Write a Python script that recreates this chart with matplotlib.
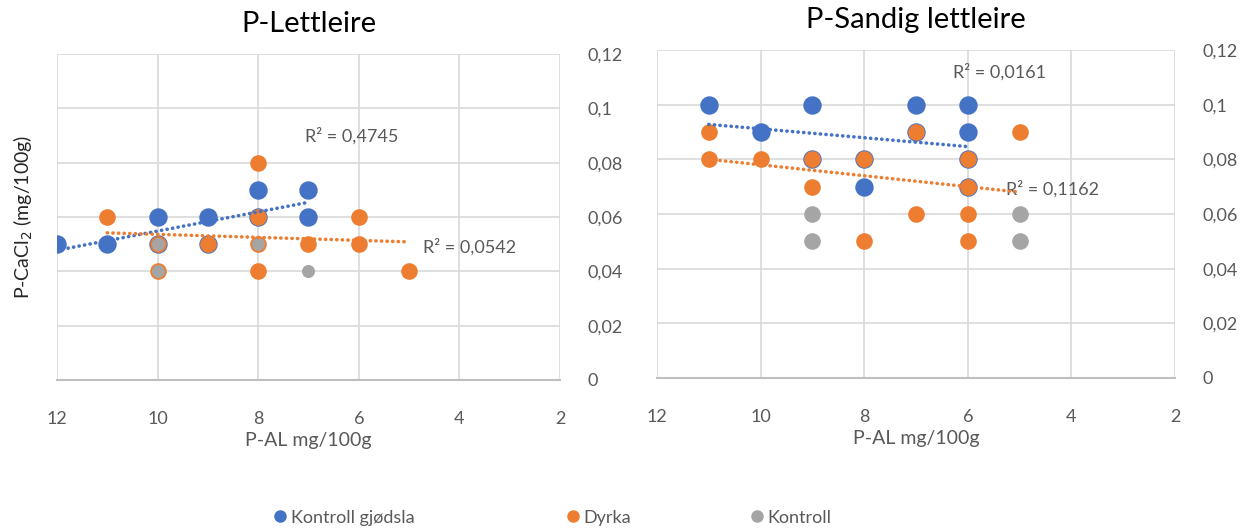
import numpy as np
import matplotlib
matplotlib.use("Agg")
import matplotlib.pyplot as plt

plt.rcParams['font.family'] = ['Lato', 'DejaVu Sans']

# P-Lettleire
lett_gjodsla_x = [12, 11, 10, 10, 9, 9, 8, 8, 7, 7]
lett_gjodsla_y = [0.05, 0.05, 0.06, 0.05, 0.06, 0.05, 0.07, 0.06, 0.07, 0.06]
lett_dyrka_x = [11, 10, 10, 9, 8, 8, 8, 8, 7, 6, 6, 5]
lett_dyrka_y = [0.06, 0.05, 0.04, 0.05, 0.08, 0.06, 0.05, 0.04, 0.05, 0.06, 0.05, 0.04]
lett_kontroll_x = [10, 10, 8, 7]
lett_kontroll_y = [0.05, 0.04, 0.05, 0.04]

# P-Sandig lettleire
sand_gjodsla_x = [11, 9, 7, 6, 10, 7, 6, 9, 8, 6, 8, 6]
sand_gjodsla_y = [0.10, 0.10, 0.10, 0.10, 0.09, 0.09, 0.09, 0.08, 0.08, 0.08, 0.07, 0.07]
sand_dyrka_x = [11, 7, 5, 11, 10, 9, 8, 6, 9, 6, 7, 6, 8, 6]
sand_dyrka_y = [0.09, 0.09, 0.09, 0.08, 0.08, 0.08, 0.08, 0.08, 0.07, 0.07, 0.06, 0.06, 0.05, 0.05]
sand_kontroll_x = [9, 9, 5, 5]
sand_kontroll_y = [0.06, 0.05, 0.06, 0.05]

series_names = ["Kontroll gjødsla", "Dyrka", "Kontroll"]
r2_labels = {"lett": ["R² = 0,4745", "R² = 0,0542"],
             "sand": ["R² = 0,0161", "R² = 0,1162"]}

blue = "#4472C4"
orange = "#ED7D31"
grey = "#A5A5A5"
txt = "#595959"
grid = "#D9D9D9"

fig = plt.figure(figsize=(12.51, 5.31), dpi=100)
ax1 = fig.add_axes([0.0456, 0.2844, 0.402, 0.6139])
ax2 = fig.add_axes([0.5252, 0.2882, 0.4140, 0.6176])


def trend(ax, x, y, color):
    p = np.polyfit(x, y, 1)
    xs = np.array([max(x), min(x)])
    ax.plot(xs, np.polyval(p, xs), color=color, lw=2.6, ls=(0, (0.05, 1.5)),
            dash_capstyle='round', zorder=4)


def style(ax, title):
    ax.set_xlim(12, 2)
    ax.set_ylim(0, 0.12)
    ax.set_xticks([12, 10, 8, 6, 4, 2])
    ax.set_yticks(np.arange(0, 0.121, 0.02))
    ax.set_yticklabels(['0', '0,02', '0,04', '0,06', '0,08', '0,1', '0,12'])
    ax.yaxis.tick_right()
    ax.grid(True, color=grid, lw=1.2)
    ax.set_axisbelow(True)
    for s in ['top', 'left', 'right']:
        ax.spines[s].set_visible(False)
    ax.spines['bottom'].set_color('#BFBFBF')
    ax.spines['bottom'].set_linewidth(1.5)
    ax.tick_params(length=0, colors=txt, labelsize=13)
    ax.tick_params(axis='x', pad=22)
    ax.tick_params(axis='y', pad=20)
    ax.set_xlabel("P-AL mg/100g", fontsize=14, color=txt, labelpad=4)
    ax.set_title(title, fontsize=21, color='black', pad=16)


# left
ax1.scatter(lett_gjodsla_x, lett_gjodsla_y, s=150, color=blue, zorder=3)
ax1.scatter(lett_dyrka_x, lett_dyrka_y, s=120, color=orange, zorder=3)
ax1.scatter(lett_kontroll_x, lett_kontroll_y, s=70, color=grey, zorder=3)
trend(ax1, lett_gjodsla_x, lett_gjodsla_y, blue)
trend(ax1, lett_dyrka_x, lett_dyrka_y, orange)
style(ax1, "P-Lettleire")
ax1.text(6.15, 0.090, r2_labels["lett"][0], fontsize=13, color=txt, ha='center', va='center')
ax1.text(3.8, 0.049, r2_labels["lett"][1], fontsize=13, color=txt, ha='center', va='center')
ax1.set_ylabel("P-CaCl$_2$ (mg/100g)", fontsize=14, color='#262626', labelpad=16)

# right
ax2.scatter(sand_gjodsla_x, sand_gjodsla_y, s=150, color=blue, zorder=3)
ax2.scatter(sand_dyrka_x, sand_dyrka_y, s=120, color=orange, zorder=3)
ax2.scatter(sand_kontroll_x, sand_kontroll_y, s=120, color=grey, zorder=3)
trend(ax2, sand_gjodsla_x, sand_gjodsla_y, blue)
trend(ax2, sand_dyrka_x, sand_dyrka_y, orange)
style(ax2, "P-Sandig lettleire")
ax2.text(5.38, 0.112, r2_labels["sand"][0], fontsize=13, color=txt, ha='center', va='center')
ax2.text(4.37, 0.069, r2_labels["sand"][1], fontsize=13, color=txt, ha='center', va='center')

# legend: three entries spread along the bottom
for name, c, xpos in zip(series_names, (blue, orange, grey), (0.218, 0.452, 0.599)):
    h = plt.Line2D([], [], ls='', marker='o', ms=8, color=c)
    fig.legend([h], [name], loc='center left', bbox_to_anchor=(xpos, 0.025),
               frameon=False, fontsize=13, labelcolor=txt, handlelength=0.8,
               handletextpad=0.2, borderpad=0, borderaxespad=0)

fig.savefig("out.png", dpi=100)
